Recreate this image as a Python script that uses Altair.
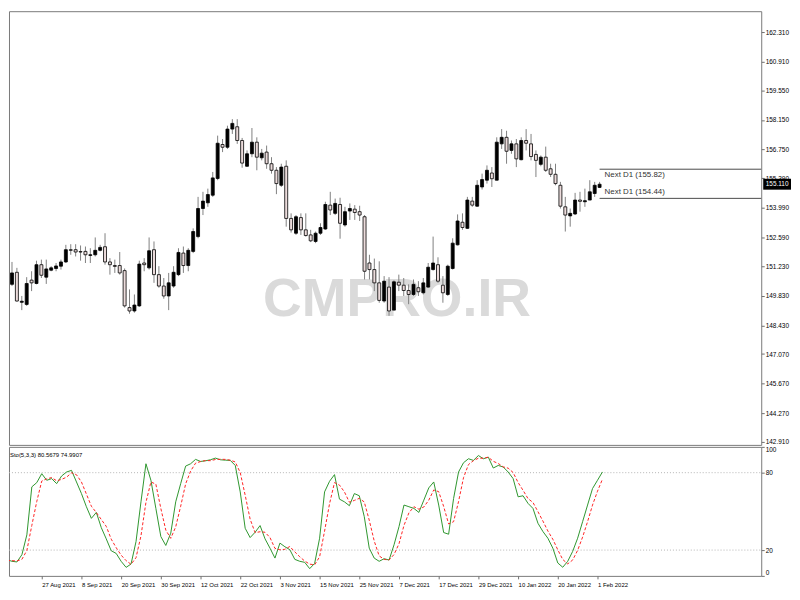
import altair as alt
import pandas as pd

# ---------------- data ----------------
OPEN = [150.37, 150.94, 149.52, 149.42, 150.57, 150.41, 151.30, 150.71, 151.04, 151.12,
        151.23, 151.43, 152.01, 152.01, 151.92, 151.93, 151.74, 151.77, 151.98, 152.15,
        151.43, 151.26, 151.26, 151.02, 149.27, 149.11, 149.35, 151.38, 151.15, 152.01,
        150.83, 150.29, 149.82, 150.29, 150.83, 151.85, 151.26, 151.93, 152.63, 153.96,
        154.23, 154.59, 155.38, 156.99, 156.86, 157.72, 157.83, 157.18, 155.96, 156.55,
        157.10, 156.36, 156.63, 156.08, 155.77, 155.06, 155.96, 153.49, 152.79, 153.53,
        152.95, 152.71, 152.40, 152.79, 152.99, 154.12, 153.73, 154.15, 153.18, 153.84,
        153.93, 153.81, 153.57, 151.38, 151.07, 150.44, 149.58, 150.24, 149.15, 150.47,
        150.33, 150.08, 149.89, 150.21, 149.97, 150.24, 151.07, 151.30, 150.33, 149.89,
        151.12, 152.24, 153.31, 153.02, 154.31, 154.07, 154.98, 155.30, 155.64, 155.30,
        157.02, 157.33, 156.71, 157.02, 156.27, 157.18, 157.02, 156.52, 156.05, 156.39,
        155.84, 155.58, 155.06, 154.04, 153.61, 153.70, 154.36, 154.28, 154.36, 154.67,
        154.96]
HIGH = [151.43, 151.15, 149.82, 150.71, 150.99, 151.49, 151.54, 151.54, 151.23, 151.38,
        151.54, 152.24, 152.27, 152.27, 152.21, 152.16, 152.08, 152.59, 152.24, 152.79,
        151.61, 151.54, 151.90, 151.12, 150.13, 149.89, 151.49, 151.61, 152.59, 152.40,
        151.23, 150.67, 150.91, 151.23, 152.08, 152.16, 152.08, 153.02, 154.51, 154.75,
        154.90, 155.69, 157.41, 157.25, 157.88, 158.19, 158.19, 157.30, 156.71, 157.77,
        157.33, 156.78, 156.94, 156.39, 155.92, 156.08, 156.24, 153.73, 153.65, 153.73,
        153.73, 152.95, 152.87, 153.26, 154.28, 154.75, 154.43, 154.47, 154.04, 154.20,
        154.12, 154.09, 153.65, 151.77, 151.59, 151.46, 150.76, 150.71, 150.56, 150.83,
        150.67, 150.37, 150.60, 150.52, 150.67, 151.38, 152.63, 151.65, 150.76, 151.30,
        152.55, 153.68, 153.73, 154.51, 154.51, 155.30, 155.61, 156.00, 155.92, 157.33,
        157.72, 157.64, 157.18, 157.25, 157.33, 157.72, 157.49, 156.71, 156.47, 156.89,
        156.08, 156.08, 155.22, 154.51, 153.96, 154.70, 154.75, 154.90, 155.30, 155.22,
        155.22]
LOW = [150.29, 149.55, 149.15, 149.35, 150.05, 150.37, 150.67, 150.39, 150.99, 150.99,
       151.07, 151.38, 151.77, 151.69, 151.49, 151.38, 151.38, 151.69, 151.93, 151.30,
       150.83, 150.91, 150.83, 149.27, 148.98, 149.03, 149.30, 150.99, 151.07, 150.44,
       150.21, 149.69, 149.15, 150.21, 150.76, 150.91, 150.99, 151.85, 152.55, 153.65,
       154.04, 154.51, 155.30, 156.63, 156.78, 157.49, 157.02, 155.89, 155.93, 156.39,
       155.77, 156.24, 155.84, 155.61, 154.64, 154.98, 153.10, 152.82, 152.71, 152.71,
       152.63, 152.37, 152.32, 152.71, 152.95, 153.65, 153.65, 152.53, 153.10, 153.42,
       153.42, 153.37, 150.60, 150.60, 150.05, 149.50, 149.50, 148.88, 149.15, 150.05,
       149.82, 149.43, 149.82, 149.82, 149.89, 150.21, 151.02, 150.44, 149.50, 149.82,
       151.07, 152.21, 152.95, 152.99, 154.04, 154.04, 154.86, 155.14, 154.98, 155.30,
       156.78, 156.08, 156.55, 155.92, 156.24, 156.71, 156.24, 155.45, 155.96, 155.69,
       155.45, 155.06, 153.96, 152.87, 153.10, 153.65, 153.81, 154.04, 154.36, 154.51,
       154.93]
CLOSE = [150.91, 149.58, 149.57, 150.41, 150.44, 151.30, 150.80, 151.10, 151.15, 151.24,
         151.43, 152.01, 151.98, 151.90, 151.90, 151.77, 151.77, 151.98, 152.12, 151.43,
         151.30, 151.22, 150.91, 149.35, 149.11, 149.39, 151.33, 151.30, 151.96, 150.83,
         150.29, 149.82, 150.44, 150.94, 151.88, 151.26, 151.98, 152.87, 153.96, 154.31,
         154.62, 155.41, 157.05, 156.86, 157.72, 157.99, 157.18, 156.11, 156.55, 157.10,
         156.39, 156.58, 156.08, 155.77, 155.14, 155.92, 153.49, 152.95, 153.57, 152.95,
         152.68, 152.43, 152.79, 153.06, 154.15, 153.89, 154.20, 153.26, 153.81, 153.96,
         153.77, 153.65, 150.99, 151.07, 150.44, 149.61, 150.52, 149.11, 150.49, 150.33,
         150.08, 149.89, 150.37, 150.02, 150.44, 151.18, 151.38, 150.52, 149.97, 151.23,
         152.32, 153.37, 153.06, 154.36, 154.12, 155.06, 155.33, 155.77, 155.37, 157.10,
         157.33, 156.67, 157.02, 156.31, 157.18, 157.05, 156.42, 156.24, 156.39, 155.77,
         155.58, 155.14, 154.07, 153.65, 153.73, 154.36, 154.30, 154.33, 154.75, 155.06,
         155.11]
STOCH_K = [12.6, 11.3, 10.8, 16.4, 31.8, 69.0, 72.3, 79.2, 74.1, 75.4,
           71.5, 77.4, 80.5, 81.8, 72.8, 63.8, 53.6, 44.6, 49.2, 37.4,
           28.7, 19.5, 17.4, 11.3, 6.6, 9.2, 26.6, 57.4, 86.9, 74.1,
           52.3, 30.5, 23.6, 33.1, 57.4, 71.5, 85.1, 86.9, 90.3, 88.7,
           89.2, 90.0, 91.3, 90.0, 89.7, 89.5, 85.6, 65.1, 36.9, 29.7,
           33.8, 39.0, 28.7, 21.5, 13.8, 25.4, 22.6, 20.3, 12.8, 11.3,
           10.5, 5.6, 9.7, 29.2, 65.1, 73.3, 78.5, 59.5, 57.4, 54.4,
           63.8, 62.1, 45.9, 21.5, 13.8, 11.3, 13.3, 12.3, 24.1, 38.2,
           54.9, 53.6, 52.3, 49.2, 58.7, 68.2, 72.8, 54.9, 33.6, 32.3,
           60.0, 80.5, 87.7, 90.8, 89.5, 93.3, 90.8, 92.0, 83.6, 85.6,
           84.4, 80.5, 75.4, 61.3, 62.1, 56.2, 52.3, 40.8, 34.4, 29.2,
           21.5, 10.0, 6.7, 11.3, 19.0, 29.2, 42.0, 54.9, 67.7, 74.1,
           80.5679]
STOCH_D = [12.0, 11.8, 11.6, 12.8, 19.7, 39.1, 57.7, 73.5, 75.2, 76.2,
           73.7, 74.8, 76.5, 79.9, 78.4, 72.8, 63.4, 54.0, 49.1, 43.7,
           38.4, 28.5, 21.9, 16.1, 11.8, 9.0, 14.1, 31.1, 57.0, 72.8,
           71.1, 52.3, 35.5, 29.1, 38.0, 54.0, 71.3, 81.2, 87.4, 88.6,
           89.4, 89.3, 90.2, 90.4, 90.3, 89.7, 88.3, 80.1, 62.5, 43.9,
           33.5, 34.2, 33.8, 29.7, 21.3, 20.2, 20.6, 22.8, 18.6, 14.8,
           11.5, 9.1, 8.6, 14.8, 34.7, 55.9, 72.3, 70.4, 65.1, 57.1,
           58.5, 60.1, 57.3, 43.2, 27.1, 15.5, 12.8, 12.3, 16.6, 24.9,
           39.1, 48.9, 53.6, 51.7, 53.4, 58.7, 66.6, 65.3, 53.8, 40.3,
           42.0, 57.6, 76.1, 86.3, 89.3, 91.2, 91.2, 92.0, 88.8, 87.1,
           84.5, 83.5, 80.1, 72.4, 66.3, 59.9, 56.9, 49.8, 42.5, 34.8,
           28.4, 20.2, 12.7, 9.3, 12.3, 19.8, 30.1, 42.0, 54.9, 65.6,
           74.9907]
TICK_BARS = [7, 15, 23, 31, 39, 47, 55, 63, 71, 79, 87, 95, 103, 111, 119]
TICK_LABELS = ["27 Aug 2021", "8 Sep 2021", "20 Sep 2021", "30 Sep 2021", "12 Oct 2021",
               "22 Oct 2021", "3 Nov 2021", "15 Nov 2021", "25 Nov 2021", "7 Dec 2021",
               "17 Dec 2021", "29 Dec 2021", "10 Jan 2022", "20 Jan 2022", "1 Feb 2022"]
PRICE_TICKS = [162.310, 160.910, 159.550, 158.150, 156.750, 155.390, 153.990, 152.590,
               151.230, 149.830, 148.430, 147.070, 145.670, 144.270, 142.910]
STOCH_TICKS = [0, 20, 80, 100]
STOCH_LEVELS = [20, 80]
NEXT_D1 = [155.82, 154.44]
CURRENT_PRICE = 155.110
WATERMARK = "CMPRO.IR"
STO_NAME = "Sto(5,3,3)"

# ---------------- layout constants ----------------
W = 758
H_MAIN = 437
H_STO = 130
FONT = "Liberation Sans, Arial, sans-serif"

n = len(OPEN)
bars = pd.DataFrame({"bar": list(range(n)), "open": OPEN, "high": HIGH,
                     "low": LOW, "close": CLOSE, "k": STOCH_K, "d": STOCH_D})

x_scale = alt.Scale(domain=[0.4, 152.0], nice=False, zero=False)
price_scale = alt.Scale(domain=[142.77, 163.30], nice=False, zero=False)
sto_scale = alt.Scale(domain=[0, 100], nice=False, zero=False)

price_axis = alt.Axis(orient="right", values=PRICE_TICKS, format=".3f", title=None,
                      grid=False, domain=False, tickSize=3, tickColor="#707070",
                      labelFont=FONT, labelFontSize=6.5, labelColor="#000000",
                      labelPadding=1, labelOverlap=False, labelFlush=False)

x_main = alt.X("bar:Q", scale=x_scale, axis=None)

# watermark
wm = alt.Chart(pd.DataFrame({"t": [WATERMARK]})).mark_text(
    font=FONT, fontSize=54, fontWeight="bold", color="#dadada",
    align="center", baseline="middle"
).encode(x=alt.value(391), y=alt.value(291), text="t:N")

wick = alt.Chart(bars).mark_rule(color="#808080", strokeWidth=1, clip=True).encode(
    x=x_main,
    y=alt.Y("low:Q", scale=price_scale, axis=price_axis),
    y2="high:Q",
)
body = alt.Chart(bars).mark_bar(size=3, stroke="#000000", strokeWidth=0.8, clip=True).encode(
    x=x_main,
    y=alt.Y("open:Q", scale=price_scale, axis=price_axis),
    y2="close:Q",
    fill=alt.condition("datum.close >= datum.open", alt.value("#000000"), alt.value("#ecdcdc")),
)

nxt = pd.DataFrame({"level": NEXT_D1, "start": [n - 1] * len(NEXT_D1),
                    "label": [f"Next D1 ({v:.2f})" for v in NEXT_D1]})
next_lines = alt.Chart(nxt).mark_rule(color="#4a4a4a", strokeWidth=1).encode(
    x=alt.X("start:Q", scale=x_scale, axis=None),
    x2=alt.value(W),
    y=alt.Y("level:Q", scale=price_scale, axis=price_axis),
)
next_top = alt.Chart(nxt.iloc[[0]]).mark_text(
    font=FONT, fontSize=8, color="#333333", align="left", baseline="top", dx=5, dy=2
).encode(x=alt.X("start:Q", scale=x_scale, axis=None),
         y=alt.Y("level:Q", scale=price_scale, axis=price_axis), text="label:N")
next_bot = alt.Chart(nxt.iloc[[1]]).mark_text(
    font=FONT, fontSize=8, color="#333333", align="left", baseline="bottom", dx=5, dy=-2
).encode(x=alt.X("start:Q", scale=x_scale, axis=None),
         y=alt.Y("level:Q", scale=price_scale, axis=price_axis), text="label:N")

cur = pd.DataFrame({"price": [CURRENT_PRICE], "label": [f"{CURRENT_PRICE:.3f}"]})
cur_box = alt.Chart(cur).mark_tick(orient="horizontal", size=28, thickness=11,
                                   color="#000000", opacity=1).encode(
    x=alt.value(W + 16), y=alt.Y("price:Q", scale=price_scale, axis=price_axis))
cur_txt = alt.Chart(cur).mark_text(font=FONT, fontSize=6.5, color="#ffffff",
                                   align="center", baseline="middle").encode(
    x=alt.value(W + 16), y=alt.Y("price:Q", scale=price_scale, axis=price_axis), text="label:N")

main = alt.layer(wm, wick, body, next_lines, next_top, next_bot, cur_box, cur_txt).properties(
    width=W, height=H_MAIN)

# ---------------- stochastic panel ----------------
label_expr = "''"
for b, lab in reversed(list(zip(TICK_BARS, TICK_LABELS))):
    label_expr = f"datum.value == {b} ? '{lab}' : ({label_expr})"

date_axis = alt.Axis(values=TICK_BARS, labelExpr=label_expr, labelAlign="left",
                     labelBaseline="top", labelPadding=3, labelFont=FONT, labelFontSize=6,
                     labelColor="#000000", tickSize=3, tickColor="#707070", domain=False,
                     grid=False, title=None, labelOverlap=False, labelFlush=False)
sto_axis = alt.Axis(orient="right", values=STOCH_TICKS, format="d", title=None, grid=False,
                    domain=False, tickSize=3, tickColor="#707070", labelFont=FONT,
                    labelFontSize=6.5, labelColor="#000000", labelPadding=1, labelFlush=True)

levels = alt.Chart(pd.DataFrame({"lvl": STOCH_LEVELS})).mark_rule(
    color="#b4b4b4", strokeDash=[1, 2], strokeWidth=1
).encode(y=alt.Y("lvl:Q", scale=sto_scale, axis=sto_axis), x=alt.value(0), x2=alt.value(W))

k_line = alt.Chart(bars).mark_line(color="#2e962e", strokeWidth=1, clip=True).encode(
    x=alt.X("bar:Q", scale=x_scale, axis=date_axis),
    y=alt.Y("k:Q", scale=sto_scale, axis=sto_axis))
d_line = alt.Chart(bars).mark_line(color="#ff2424", strokeWidth=1, strokeDash=[3, 2], clip=True).encode(
    x=alt.X("bar:Q", scale=x_scale, axis=date_axis),
    y=alt.Y("d:Q", scale=sto_scale, axis=sto_axis))

sto_txt = alt.Chart(pd.DataFrame({"t": [f"{STO_NAME} {STOCH_K[-1]:.4f} {STOCH_D[-1]:.4f}"]})).mark_text(
    font=FONT, fontSize=6, color="#000000", align="left", baseline="middle"
).encode(x=alt.value(1), y=alt.value(8), text="t:N")

sto = alt.layer(levels, k_line, d_line, sto_txt).properties(width=W, height=H_STO)

chart = alt.vconcat(main, sto, spacing=2, bounds="flush").properties(
    padding=0, background="#ffffff"
).configure_view(stroke="#7a7a7a", strokeWidth=1)

chart.save("out.html", embed_options={"renderer": "svg", "actions": False})
